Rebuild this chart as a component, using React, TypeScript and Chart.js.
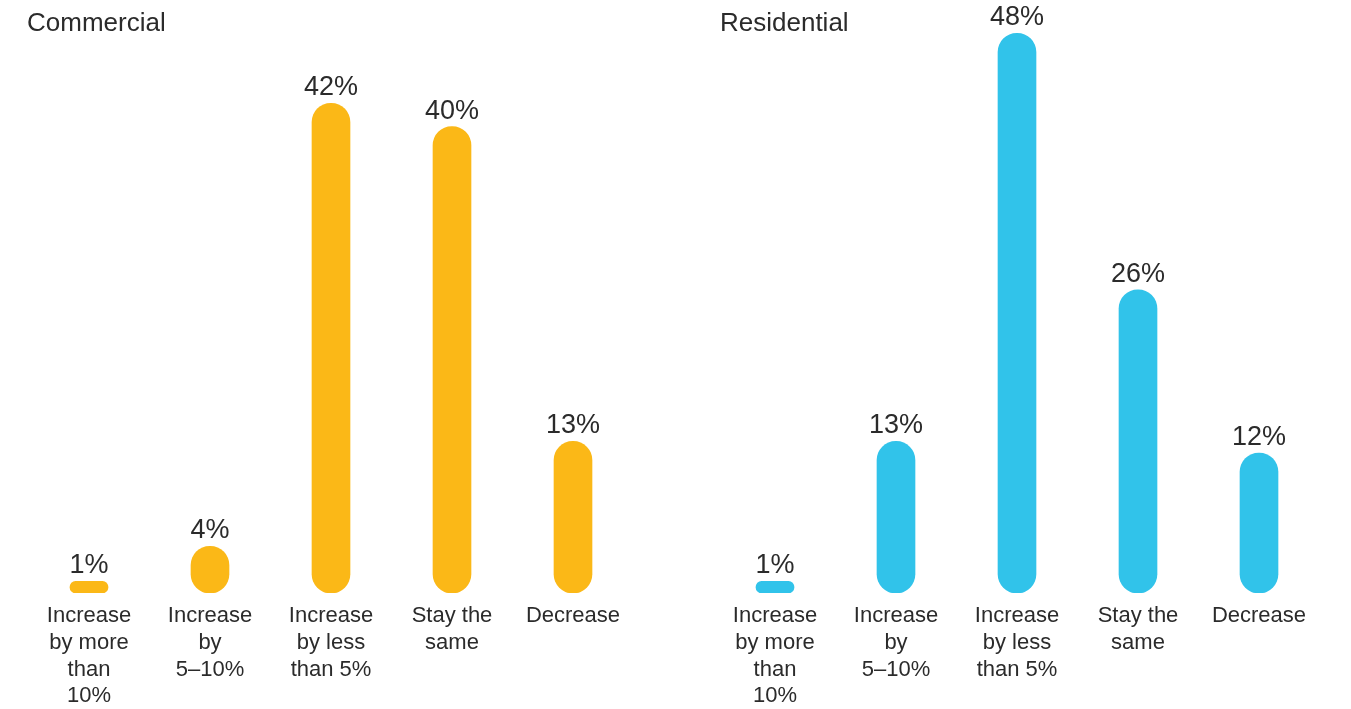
import React, { useEffect, useRef } from "react";
import { Chart, registerables } from "chart.js";

Chart.register(...registerables);

const categoryLabels: string[][] = [
  ["Increase", "by more", "than", "10%"],
  ["Increase", "by", "5–10%"],
  ["Increase", "by less", "than 5%"],
  ["Stay the", "same"],
  ["Decrease"],
];
const commercialValues = [1, 4, 42, 40, 13];
const residentialValues = [1, 13, 48, 26, 12];
const panelTitles = ["Commercial", "Residential"];
const panelColors = ["#FBB817", "#31C3EA"];

const FONT = "'Liberation Sans', Arial, Helvetica, sans-serif";
const TEXT = "#2b2b2b";
const H = 709;
const AXIS_BOTTOM = 593;

type PanelProps = {
  title: string;
  values: number[];
  color: string;
  left: number;
  width: number;
  padLeft: number;
  padRight: number;
  titleX: number;
};

function Panel({ title, values, color, left, width, padLeft, padRight, titleX }: PanelProps) {
  const ref = useRef<HTMLCanvasElement | null>(null);
  useEffect(() => {
    if (!ref.current) return;
    const labelPlugin = {
      id: "valueLabels",
      afterDatasetsDraw(chart: any) {
        const ctx = chart.ctx;
        ctx.save();
        ctx.fillStyle = TEXT;
        ctx.font = `27px ${FONT}`;
        ctx.textAlign = "center";
        ctx.textBaseline = "alphabetic";
        const meta = chart.getDatasetMeta(0);
        meta.data.forEach((bar: any, i: number) => {
          ctx.fillText(`${values[i]}%`, bar.x, bar.y - 8);
        });
        ctx.font = `26px ${FONT}`;
        ctx.textAlign = "left";
        ctx.fillText(title, titleX, 31);
        ctx.restore();
      },
    };
    const chart = new Chart(ref.current, {
      type: "bar",
      data: {
        labels: categoryLabels,
        datasets: [
          {
            data: values,
            backgroundColor: color,
            borderRadius: 100,
            borderSkipped: false,
            barThickness: 38,
          },
        ],
      },
      options: {
        responsive: false,
        animation: false,
        devicePixelRatio: 1,
        layout: { padding: { left: padLeft, right: padRight, top: 10, bottom: 0 } },
        plugins: { legend: { display: false }, tooltip: { enabled: false } },
        scales: {
          y: { display: false, min: 0, max: 50 },
          x: {
            grid: { display: false, drawTicks: false },
            border: { display: false },
            ticks: {
              color: TEXT,
              padding: 10,
              autoSkip: false,
              maxRotation: 0,
              font: { family: FONT, size: 22, lineHeight: 1.21 },
            },
            afterFit(scale: any) {
              scale.height = H - AXIS_BOTTOM;
            },
          },
        },
      },
      plugins: [labelPlugin],
    });
    return () => chart.destroy();
  }, []);
  return (
    <canvas
      ref={ref}
      width={width}
      height={H}
      style={{ position: "absolute", left, top: 0, width, height: H }}
    />
  );
}

export default function App() {
  return (
    <div style={{ position: "absolute", left: 0, top: 0, width: 1351, height: H, background: "#fff" }}>
      <Panel
        title={panelTitles[0]}
        values={commercialValues}
        color={panelColors[0]}
        left={0}
        width={675}
        padLeft={28.5}
        padRight={41.5}
        titleX={27}
      />
      <Panel
        title={panelTitles[1]}
        values={residentialValues}
        color={panelColors[1]}
        left={675}
        width={676}
        padLeft={39.5}
        padRight={31.5}
        titleX={45}
      />
    </div>
  );
}
